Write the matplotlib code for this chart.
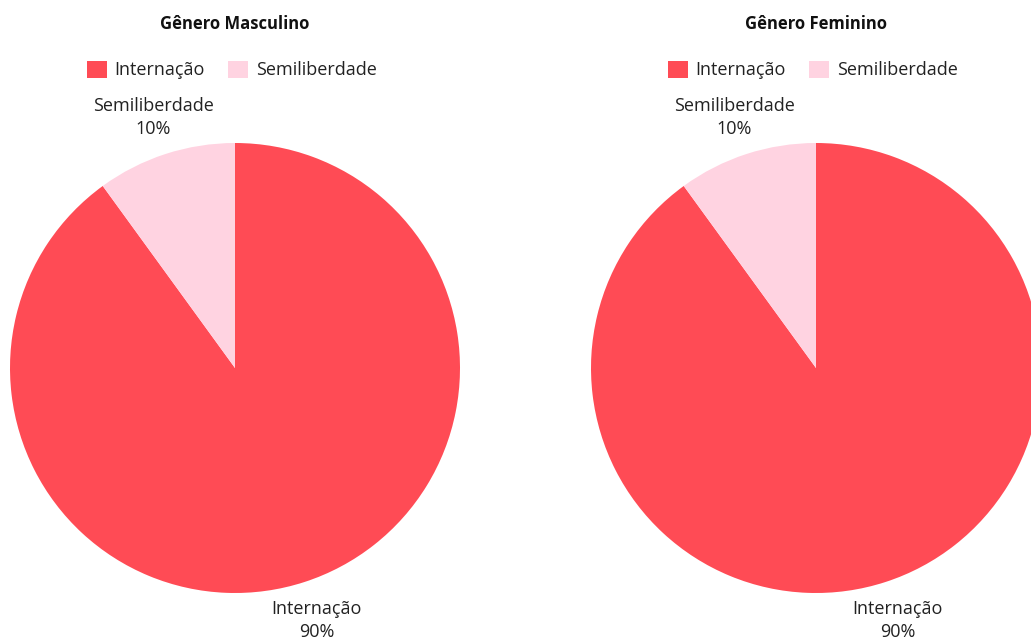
import matplotlib
matplotlib.use("Agg")
import matplotlib.pyplot as plt
from matplotlib.patches import Patch
import numpy as np

plt.rcParams['font.family'] = ['Open Sans', 'DejaVu Sans']

categories = ["Internação", "Semiliberdade"]
titles = ["Gênero Masculino", "Gênero Feminino"]
masculino = [90, 10]
feminino = [90, 10]
series = [masculino, feminino]
colors = ["#FF4B55", "#FFD3E1"]

W, H = 1031, 639
fig = plt.figure(figsize=(W / 100, H / 100), dpi=100)

centers_x = [235, 816]
center_y = H - 368
radius = 225
label_r = 1.175

for i, (vals, title, cx) in enumerate(zip(series, titles, centers_x)):
    ax = fig.add_axes([0, 0, 1, 1], facecolor="none")
    wedges, _ = ax.pie(vals, colors=colors, startangle=90, counterclock=False,
                       center=(cx, center_y), radius=radius,
                       wedgeprops=dict(linewidth=0))
    total = sum(vals)
    for w, cat, v in zip(wedges, categories, vals):
        ang = np.deg2rad((w.theta1 + w.theta2) / 2)
        ax.text(cx + label_r * radius * np.cos(ang),
                center_y + label_r * radius * np.sin(ang) - 1,
                f"{cat}\n{round(100 * v / total)}%",
                ha="center", va="center", fontsize=13, color="#222222",
                linespacing=1.3)
    ax.set_xlim(0, W)
    ax.set_ylim(0, H)
    ax.set_aspect("auto")
    ax.axis("off")
    ax.text(cx, H - 24, title, ha="center", va="center", fontsize=12,
            fontweight="bold", color="#111111")
    handles = [Patch(facecolor=c, edgecolor="none") for c in colors]
    ax.legend(handles, categories, loc="center", ncol=2,
              bbox_to_anchor=(cx - 3, H - 70), bbox_transform=ax.transData,
              frameon=False, fontsize=13, handlelength=1.1, handleheight=1.1,
              handletextpad=0.45, columnspacing=1.3, labelcolor="#222222")

fig.savefig("out.png", dpi=100)
